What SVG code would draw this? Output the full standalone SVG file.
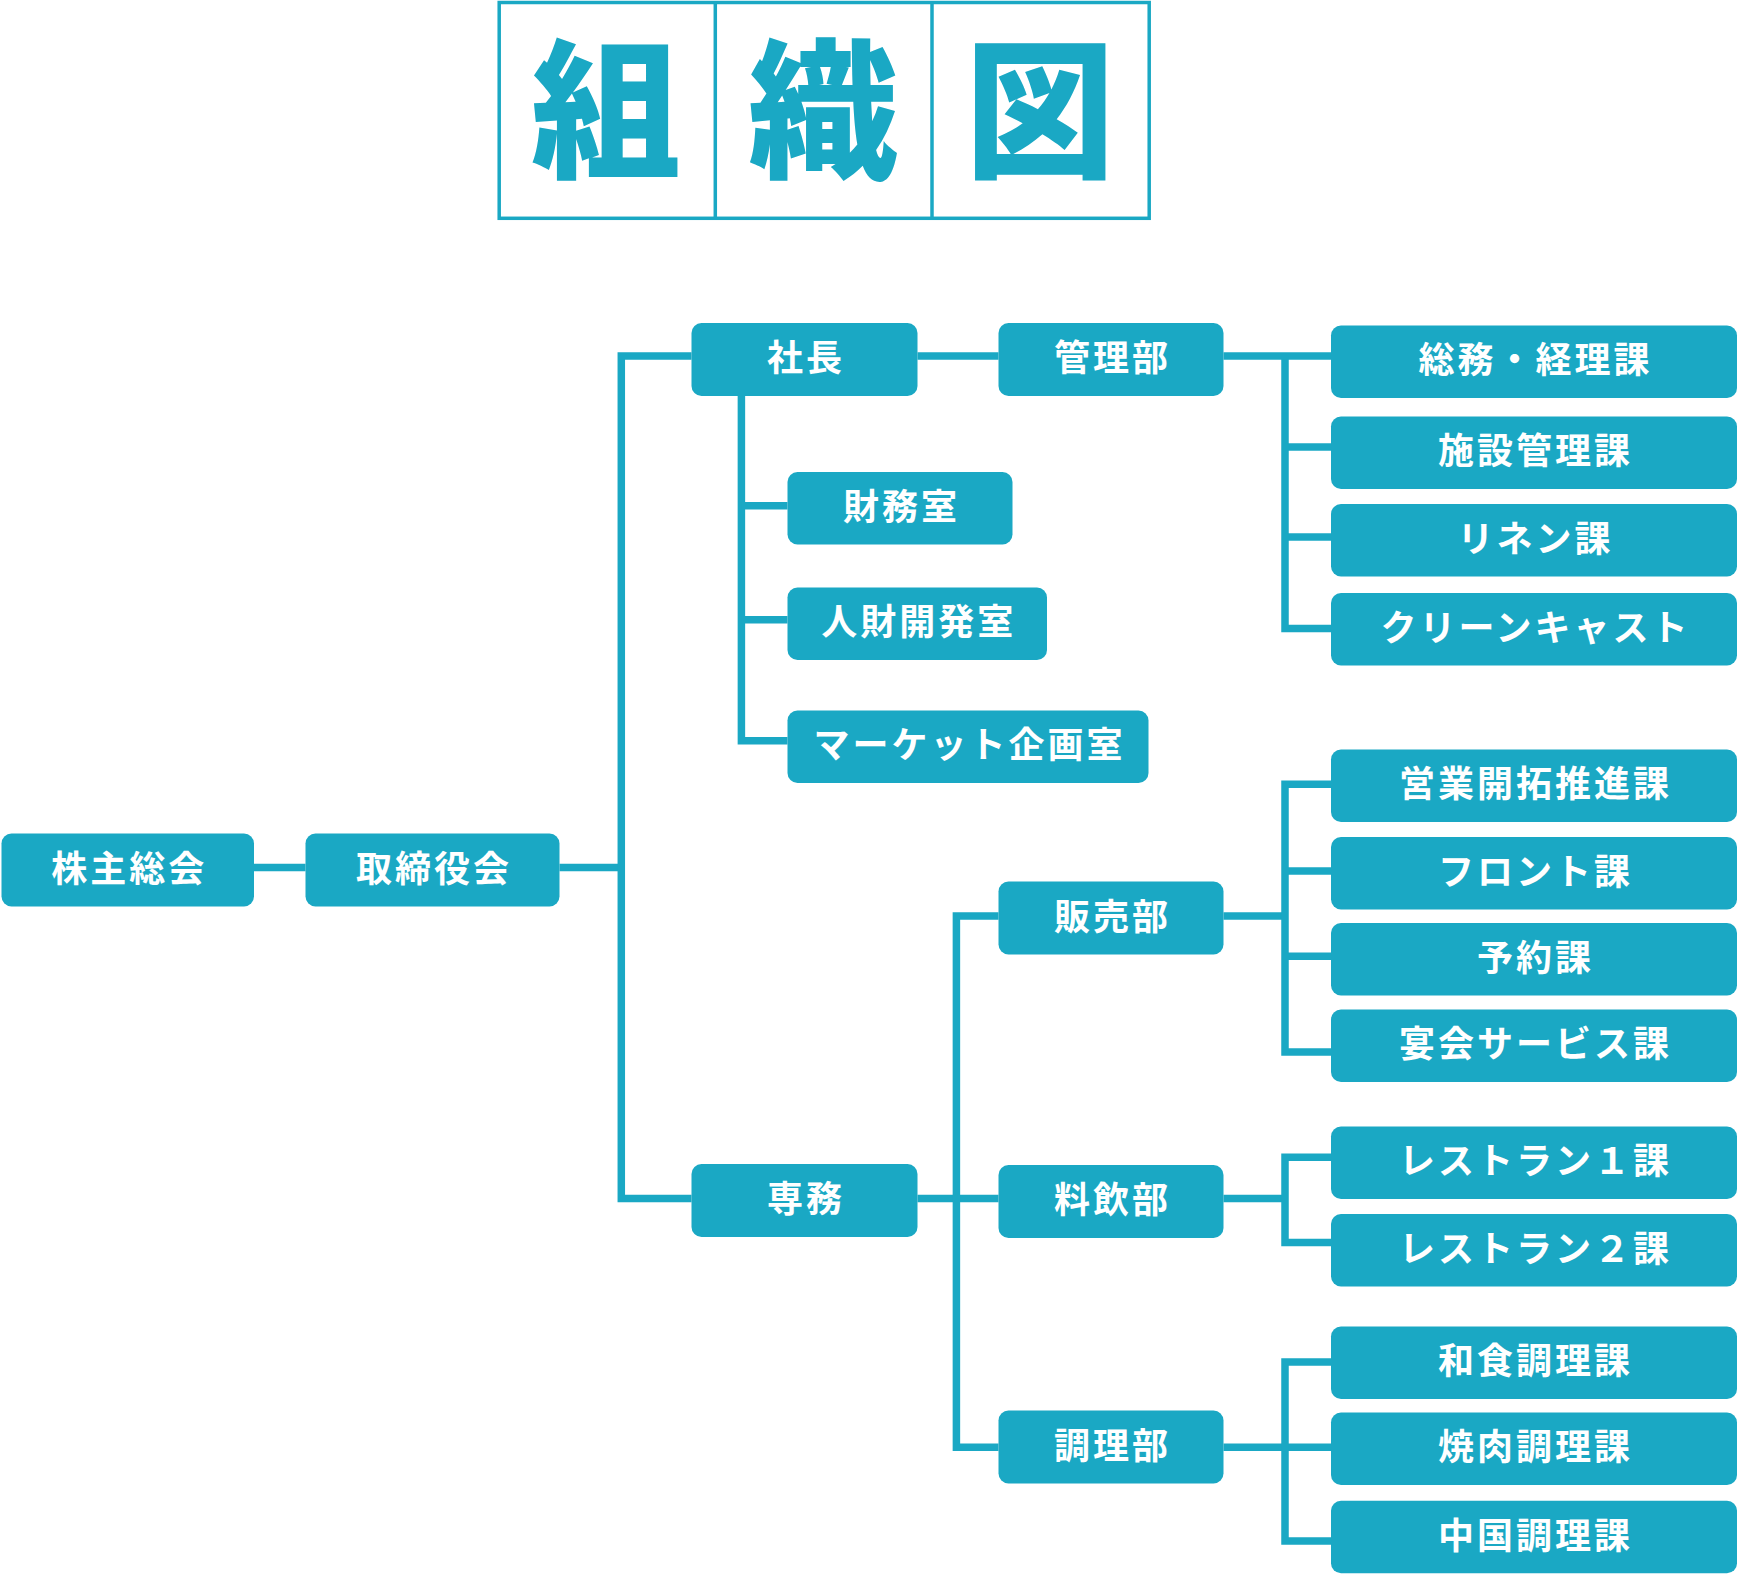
<svg xmlns="http://www.w3.org/2000/svg" width="1738" height="1574" viewBox="0 0 1738 1574">
<style>
.box{fill:#1aa8c4;}
.lbl{fill:#ffffff;font-family:"Noto Sans CJK JP","Noto Sans CJK SC",sans-serif;font-size:36px;font-weight:700;letter-spacing:3px;text-anchor:middle;}
.ttl{fill:#1aa8c4;font-family:"Noto Sans CJK JP","Noto Sans CJK SC",sans-serif;font-size:150px;font-weight:900;text-anchor:middle;}
.frame{fill:none;stroke:#1aa8c4;stroke-width:3.5;}
.conn{fill:none;stroke:#1aa8c4;stroke-width:7.5;stroke-linejoin:miter;}
</style>
<rect width="1738" height="1574" fill="#ffffff"/>
<g id="title">
<rect class="frame" x="499.2" y="2.5" width="650" height="215.8"/>
<line class="frame" x1="715.3" y1="2.5" x2="715.3" y2="218.3"/>
<line class="frame" x1="932" y1="2.5" x2="932" y2="218.3"/>
<text class="ttl" x="606" y="166">組</text>
<text class="ttl" x="823" y="166">織</text>
<text class="ttl" x="1040" y="166">図</text>
</g>
<g id="connectors">
<path class="conn" d="M254,867.5 H305.5"/>
<path class="conn" d="M559.5,867.5 H621.3"/>
<path class="conn" d="M691.5,356 H621.3 V1198.5 H691.5"/>
<path class="conn" d="M917.5,356 H998.5"/>
<path class="conn" d="M741.4,396 V740.8 H787.5"/>
<path class="conn" d="M741.4,505.8 H787.5"/>
<path class="conn" d="M741.4,619.8 H787.5"/>
<path class="conn" d="M1223.5,356 H1331"/>
<path class="conn" d="M1285,356 V628.5 H1331"/>
<path class="conn" d="M1285,447 H1331"/>
<path class="conn" d="M1285,537 H1331"/>
<path class="conn" d="M917.5,1198.5 H998.5"/>
<path class="conn" d="M998.5,916 H956.4 V1447.3 H998.5"/>
<path class="conn" d="M1223.5,916 H1285"/>
<path class="conn" d="M1331,784.3 H1285 V1052 H1331"/>
<path class="conn" d="M1285,871 H1331"/>
<path class="conn" d="M1285,956.3 H1331"/>
<path class="conn" d="M1223.5,1198.5 H1285"/>
<path class="conn" d="M1331,1157.3 H1285 V1242.5 H1331"/>
<path class="conn" d="M1223.5,1447.3 H1331"/>
<path class="conn" d="M1331,1362 H1285 V1541 H1331"/>
</g>
<g id="n-kabunushi"><rect class="box" x="1.5" y="833.5" width="252.5" height="73" rx="10"/><text class="lbl" x="129.3" y="881.5">株主総会</text></g>
<g id="n-torishimari"><rect class="box" x="305.5" y="833.5" width="254" height="73" rx="10"/><text class="lbl" x="434" y="881.5">取締役会</text></g>
<g id="n-shacho"><rect class="box" x="691.5" y="323" width="226" height="73" rx="10"/><text class="lbl" x="806" y="371">社長</text></g>
<g id="n-kanri"><rect class="box" x="998.5" y="323" width="225" height="73" rx="10"/><text class="lbl" x="1112.5" y="371">管理部</text></g>
<g id="n-zaimu"><rect class="box" x="787.5" y="472" width="225" height="72.5" rx="10"/><text class="lbl" x="901.5" y="519.7">財務室</text></g>
<g id="n-jinzai"><rect class="box" x="787.5" y="587.5" width="259.5" height="72.5" rx="10"/><text class="lbl" x="918.7" y="635.3">人財開発室</text></g>
<g id="n-market"><rect class="box" x="787.5" y="710.5" width="361" height="72.5" rx="10"/><text class="lbl" x="969.5" y="758.3">マーケット企画室</text></g>
<g id="n-senmu"><rect class="box" x="691.5" y="1164" width="226" height="73" rx="10"/><text class="lbl" x="806" y="1212">専務</text></g>
<g id="n-hanbai"><rect class="box" x="998.5" y="881.5" width="225" height="73" rx="10"/><text class="lbl" x="1112.5" y="929.5">販売部</text></g>
<g id="n-ryoin"><rect class="box" x="998.5" y="1165" width="225" height="73" rx="10"/><text class="lbl" x="1112.5" y="1213">料飲部</text></g>
<g id="n-chori"><rect class="box" x="998.5" y="1410.5" width="225" height="73" rx="10"/><text class="lbl" x="1112.5" y="1458.5">調理部</text></g>
<g id="n-somu"><rect class="box" x="1331" y="325.5" width="406" height="72.5" rx="10"/><text class="lbl" x="1535.5" y="373.3">総務・経理課</text></g>
<g id="n-shisetsu"><rect class="box" x="1331" y="416.5" width="406" height="72.5" rx="10"/><text class="lbl" x="1535.5" y="464.3">施設管理課</text></g>
<g id="n-linen"><rect class="box" x="1331" y="504" width="406" height="72.5" rx="10"/><text class="lbl" x="1535.5" y="551.8">リネン課</text></g>
<g id="n-clean"><rect class="box" x="1331" y="593" width="406" height="72.5" rx="10"/><text class="lbl" x="1535.5" y="640.8">クリーンキャスト</text></g>
<g id="n-eigyo"><rect class="box" x="1331" y="749.5" width="406" height="72.5" rx="10"/><text class="lbl" x="1535.5" y="797.3">営業開拓推進課</text></g>
<g id="n-front"><rect class="box" x="1331" y="837" width="406" height="72.5" rx="10"/><text class="lbl" x="1535.5" y="884.8">フロント課</text></g>
<g id="n-yoyaku"><rect class="box" x="1331" y="923" width="406" height="72.5" rx="10"/><text class="lbl" x="1535.5" y="970.8">予約課</text></g>
<g id="n-enkai"><rect class="box" x="1331" y="1009.5" width="406" height="72.5" rx="10"/><text class="lbl" x="1535.5" y="1057.3">宴会サービス課</text></g>
<g id="n-rest1"><rect class="box" x="1331" y="1126.5" width="406" height="72.5" rx="10"/><text class="lbl" x="1535.5" y="1174.3">レストラン１課</text></g>
<g id="n-rest2"><rect class="box" x="1331" y="1214" width="406" height="72.5" rx="10"/><text class="lbl" x="1535.5" y="1261.8">レストラン２課</text></g>
<g id="n-washoku"><rect class="box" x="1331" y="1326.5" width="406" height="72.5" rx="10"/><text class="lbl" x="1535.5" y="1374.3">和食調理課</text></g>
<g id="n-yakiniku"><rect class="box" x="1331" y="1412.5" width="406" height="72.5" rx="10"/><text class="lbl" x="1535.5" y="1460.3">焼肉調理課</text></g>
<g id="n-chugoku"><rect class="box" x="1331" y="1500.8" width="406" height="72.5" rx="10"/><text class="lbl" x="1535.5" y="1548.5">中国調理課</text></g>
</svg>
